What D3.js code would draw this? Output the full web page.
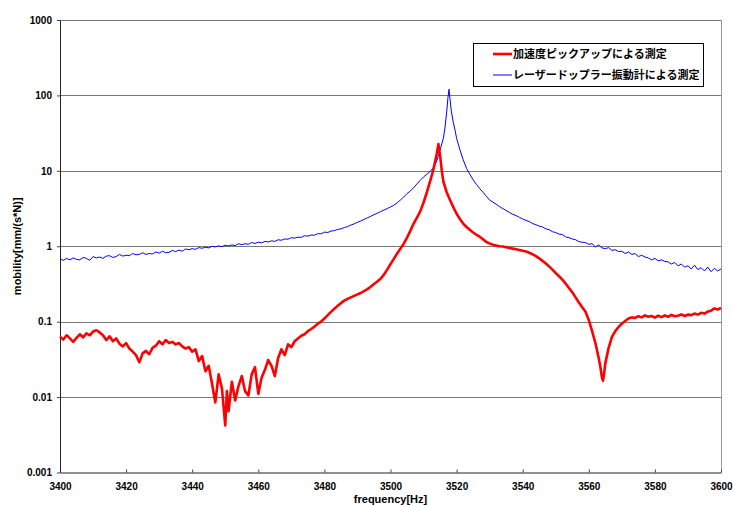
<html>
<head>
<meta charset="utf-8">
<script src="https://d3js.org/d3.v7.min.js"></script>
<style>
body { margin: 0; background: #fff; }
svg { display: block; }
text { font-family: "Liberation Sans", Arial, sans-serif; font-weight: bold; fill: #000; }
.legend text { font-family: "Noto Sans CJK JP", sans-serif; }
</style>
</head>
<body>
<svg width="733" height="505"></svg>
<script>

// laser doppler vibrometer measurement (blue)
var laserFreq = [3400,3401,3402,3403,3404,3405,3406,3407,3408,3409,
  3410,3411,3412,3413,3414,3415,3416,3417,3418,3419,
  3420,3421,3422,3423,3424,3425,3426,3427,3428,3429,
  3430,3431,3432,3433,3434,3435,3436,3437,3438,3439,
  3440,3441,3442,3443,3444,3445,3446,3447,3448,3449,
  3450,3451,3452,3453,3454,3455,3456,3457,3458,3459,
  3460,3461,3462,3463,3464,3465,3466,3467,3468,3469,
  3470,3471,3472,3473,3474,3475,3476,3477,3478,3479,
  3480,3481,3482,3483,3484,3485,3486,3487,3488,3489,
  3490,3491,3492,3493,3494,3495,3496,3497,3498,3499,
  3500,3501,3502,3503,3504,3505,3506,3507,3508,3509,
  3510,3511,3512,3513,3514,3515,3516,3516.5,3517,3517.4,3517.7,3518,3518.4,3519,3519.5,
  3520,3521,3522,3523,3524,3525,3526,3527,3528,3529,
  3530,3531,3532,3533,3534,3535,3536,3537,3538,3539,
  3540,3541,3542,3543,3544,3545,3546,3547,3548,3549,
  3550,3551,3552,3553,3554,3555,3556,3557,3558,3559,
  3560,3561,3562,3563,3564,3565,3566,3567,3568,3569,
  3570,3571,3572,3573,3574,3575,3576,3577,3578,3579,
  3580,3581,3582,3583,3584,3585,3586,3587,3588,3589,
  3590,3591,3592,3593,3594,3595,3596,3597,3598,3599,3600];
var laserMob = [0.68,0.65,0.69,0.66,0.70,0.67,0.66,0.71,0.69,0.65,
  0.73,0.70,0.72,0.69,0.74,0.75,0.71,0.73,0.78,0.74,
  0.76,0.75,0.80,0.77,0.78,0.82,0.78,0.80,0.79,0.84,
  0.81,0.86,0.82,0.83,0.88,0.85,0.89,0.86,0.92,0.90,
  0.93,0.91,0.96,0.94,0.97,0.95,1.00,0.98,1.01,0.99,
  1.03,1.01,1.04,1.02,1.08,1.05,1.08,1.06,1.12,1.09,
  1.13,1.11,1.16,1.14,1.18,1.16,1.22,1.20,1.25,1.24,
  1.30,1.28,1.32,1.31,1.38,1.36,1.41,1.40,1.47,1.46,
  1.54,1.52,1.59,1.61,1.67,1.70,1.77,1.82,1.91,1.98,
  2.08,2.16,2.27,2.38,2.49,2.62,2.74,2.88,3.02,3.16,
  3.32,3.50,3.75,4.10,4.50,5.00,5.40,6.00,6.70,7.50,
  8.30,9.00,9.80,11.0,13.5,18.9,27,38,60,95,121,90,62,44,35,
  27,19,14,10.8,9.0,7.6,6.6,5.8,5.2,4.6,
  4.1,3.85,3.6,3.35,3.15,2.98,2.8,2.65,2.55,2.42,
  2.3,2.2,2.12,2.0,1.93,1.85,1.80,1.70,1.66,1.56,
  1.52,1.45,1.43,1.33,1.30,1.25,1.22,1.15,1.13,1.12,
  1.06,1.08,0.98,1.04,0.95,0.93,0.96,0.88,0.90,0.85,
  0.86,0.80,0.84,0.78,0.80,0.73,0.76,0.72,0.70,0.66,
  0.69,0.64,0.66,0.63,0.62,0.58,0.61,0.55,0.58,0.53,
  0.55,0.50,0.56,0.49,0.52,0.47,0.53,0.46,0.51,0.47,0.50];

// accelerometer pickup measurement (red)
var accelFreq = [3400,3401,3402,3403,3404,3405,3406,3407,3408,3409,
  3410,3411,3412,3413,3414,3415,3416,3417,3418,3419,
  3420,3421,3422,3423,3424,3425,3426,3427,3428,3429,
  3430,3431,3432,3433,3434,3435,3436,3437,3438,3439,
  3440,3441,3442,3443,3444,3445,3446,3447,3448,3449,
  3450,3450.5,3451,3452,3453,3454,3455,3456,3457,3458,
  3459,3460,3461,3462,3463,3464,3465,3466,3467,3468,
  3469,3470,3471,3472,3473,3474,3475,3476,3477,3478,
  3479,3480,3481,3482,3483,3484,3485,3486,3487,3488,
  3489,3490,3491,3492,3493,3494,3495,3496,3497,3498,
  3499,3500,3501,3502,3503,3504,3505,3506,3507,3508,
  3509,3510,3511,3512,3513,3514,3514.5,3515,3515.5,3516,
  3517,3518,3519,3520,3521,3522,3523,3524,3525,3526,
  3527,3528,3529,3530,3531,3532,3533,3534,3535,3536,
  3537,3538,3539,3540,3541,3542,3543,3544,3545,3546,
  3547,3548,3549,3550,3551,3552,3553,3554,3555,3556,
  3557,3558,3559,3560,3561,3562,3563,3563.5,3564,3564.3,3564.6,3565,
  3566,3567,3568,3569,3570,3571,3572,3573,3574,3575,
  3576,3577,3578,3579,3580,3581,3582,3583,3584,3585,
  3586,3587,3588,3589,3590,3591,3592,3593,3594,3595,
  3596,3597,3598,3599,3600];
var accelMob = [0.063,0.058,0.066,0.060,0.054,0.061,0.068,0.062,0.070,0.066,
  0.074,0.077,0.072,0.066,0.057,0.064,0.055,0.060,0.051,0.047,
  0.052,0.044,0.040,0.036,0.029,0.038,0.041,0.037,0.045,0.048,
  0.055,0.050,0.057,0.052,0.054,0.050,0.052,0.047,0.044,0.046,
  0.040,0.043,0.030,0.035,0.022,0.026,0.015,0.0085,0.020,0.013,
  0.0042,0.012,0.0065,0.016,0.009,0.014,0.019,0.012,0.0105,0.020,
  0.025,0.011,0.018,0.023,0.031,0.026,0.019,0.033,0.043,0.036,
  0.050,0.046,0.055,0.060,0.065,0.068,0.075,0.080,0.086,0.094,
  0.100,0.110,0.122,0.135,0.148,0.162,0.176,0.190,0.200,0.210,
  0.220,0.230,0.240,0.255,0.270,0.290,0.315,0.340,0.370,0.420,
  0.490,0.58,0.68,0.80,0.93,1.08,1.30,1.60,2.0,2.4,
  2.9,3.8,5.2,7.3,10.5,17,22.6,16,10.2,7.2,
  5.2,4.1,3.3,2.7,2.3,2.0,1.8,1.65,1.52,1.42,
  1.34,1.24,1.14,1.09,1.05,1.02,1.00,0.99,0.97,0.95,
  0.93,0.91,0.89,0.87,0.85,0.82,0.78,0.74,0.69,0.64,
  0.59,0.54,0.49,0.44,0.40,0.36,0.32,0.28,0.245,0.21,
  0.18,0.155,0.135,0.105,0.075,0.052,0.033,0.025,0.018,0.0165,0.020,0.028,
  0.045,0.063,0.075,0.085,0.094,0.102,0.110,0.114,0.112,0.118,
  0.114,0.121,0.116,0.119,0.113,0.120,0.115,0.121,0.116,0.123,
  0.118,0.120,0.125,0.119,0.124,0.122,0.128,0.124,0.131,0.128,
  0.136,0.140,0.150,0.145,0.152];

var xTicks = [3400,3420,3440,3460,3480,3500,3520,3540,3560,3580,3600];
var yTicks = [0.001,0.01,0.1,1,10,100,1000];
var yTickLabels = ["0.001","0.01","0.1","1","10","100","1000"];
var seriesNames = ["加速度ピックアップによる測定","レーザードップラー振動計による測定"];

var svg = d3.select("svg");
var mLeft = 60, mRight = 721, mTop = 20, mBottom = 472.5;

var x = d3.scaleLinear().domain([3400,3600]).range([mLeft,mRight]);
var y = d3.scaleLog().domain([0.001,1000]).range([mBottom,mTop]);

// gridlines
svg.selectAll("line.grid").data(yTicks.slice(1)).enter().append("line")
  .attr("class","grid")
  .attr("x1",mLeft).attr("x2",mRight)
  .attr("y1",function(d){ return Math.round(y(d))+0.5; })
  .attr("y2",function(d){ return Math.round(y(d))+0.5; })
  .attr("stroke","#777").attr("stroke-width",1);

// right border
svg.append("line").attr("x1",mRight+0.5).attr("x2",mRight+0.5).attr("y1",mTop).attr("y2",mBottom)
  .attr("stroke","#999");

// axes
var xAxis = d3.axisBottom(x).tickValues(xTicks).tickFormat(d3.format("d"))
  .tickSizeInner(-3).tickSizeOuter(0).tickPadding(10);
var gx = svg.append("g").attr("transform","translate(0,"+mBottom+")").call(xAxis);
gx.selectAll("text").style("font-size","10px").style("font-weight","bold");
gx.select(".domain").attr("stroke","#222");

var yAxis = d3.axisLeft(y).tickValues(yTicks).tickSizeInner(3).tickSizeOuter(0).tickPadding(5)
  .tickFormat(function(d,i){ return yTickLabels[i]; });
var gy = svg.append("g").attr("transform","translate("+mLeft+",0)").call(yAxis);
gy.selectAll("text").style("font-size","10px").style("font-weight","bold");
gy.select(".domain").attr("stroke","#222");
svg.selectAll(".tick line").attr("stroke","#444");

// axis titles
svg.append("text").attr("x",(mLeft+mRight)/2).attr("y",503).attr("text-anchor","middle")
  .style("font-size","11px").text("frequency[Hz]");
svg.append("text").attr("transform","translate(21,"+((mTop+mBottom)/2)+") rotate(-90)")
  .attr("text-anchor","middle").style("font-size","11px").text("mobility[mm/(s*N)]");

// series
var line = d3.line().x(function(d){ return x(d[0]); }).y(function(d){ return y(d[1]); });
var laser = laserFreq.map(function(f,i){ return [f, laserMob[i]]; });
var accel = accelFreq.map(function(f,i){ return [f, accelMob[i]]; });

svg.append("path").datum(laser).attr("d",line)
  .attr("fill","none").attr("stroke","#0000ff").attr("stroke-width",1);
svg.append("path").datum(accel).attr("d",line)
  .attr("fill","none").attr("stroke","#ff0000").attr("stroke-width",2.6)
  .attr("stroke-linejoin","round");

// legend
var lg = svg.append("g").attr("class","legend");
lg.append("rect").attr("x",473.5).attr("y",43.5).attr("width",230).attr("height",43)
  .attr("fill","#fff").attr("stroke","#000");
var lcol = ["#ff0000","#0000ff"], lw = [2.6,1];
seriesNames.forEach(function(n,i){
  var yy = 54 + i*21;
  lg.append("line").attr("x1",493).attr("x2",512).attr("y1",yy).attr("y2",yy)
    .attr("stroke",lcol[i]).attr("stroke-width",lw[i]);
  lg.append("text").attr("x",513).attr("y",yy+4).style("font-size","11px").text(n);
});

</script>
</body>
</html>
